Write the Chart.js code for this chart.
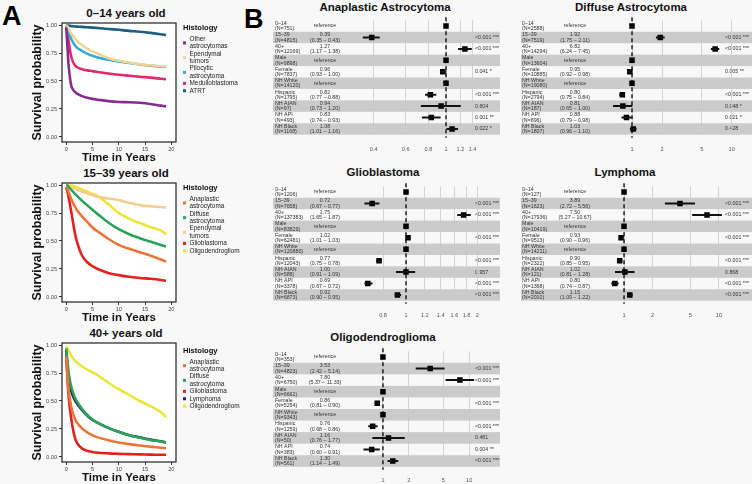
<!DOCTYPE html>
<html>
<head>
<meta charset="utf-8">
<script src="https://cdn.jsdelivr.net/npm/chart.js@4.4.1/dist/chart.umd.min.js"></script>
<style>
  body { margin: 0; background: #f8f8f8; font-family: "Liberation Sans", Arial, sans-serif; }
  #fig { position: relative; width: 752px; height: 484px; overflow: hidden; }
  canvas { position: absolute; }
  .ttl { position: absolute; font-weight: bold; color: #111; white-space: nowrap; transform: translate(-50%, -50%); font-size: 11.5px; }
  .letter { position: absolute; font-weight: bold; font-size: 27px; color: #000; line-height: 1; }
</style>
</head>
<body>
<div id="fig">
  <div class="letter" style="left:2px;top:3px">A</div>
  <div class="letter" style="left:244px;top:6px">B</div>

  <div class="ttl" style="left:126px;top:13px">0–14 years old</div>
  <div class="ttl" style="left:126px;top:173px">15–39 years old</div>
  <div class="ttl" style="left:126px;top:333px">40+ years old</div>
  <canvas id="km1" width="240" height="164" style="left:0;top:0"></canvas>
  <canvas id="km2" width="240" height="164" style="left:0;top:160px"></canvas>
  <canvas id="km3" width="240" height="164" style="left:0;top:320px"></canvas>

  <div class="ttl" style="left:385px;top:7px">Anaplastic Astrocytoma</div>
  <div class="ttl" style="left:631px;top:7px">Diffuse Astrocytoma</div>
  <div class="ttl" style="left:383px;top:172px">Glioblastoma</div>
  <div class="ttl" style="left:625px;top:172px">Lymphoma</div>
  <div class="ttl" style="left:383px;top:337px">Oligodendroglioma</div>
  <canvas id="fAA" width="228" height="156" style="left:272px;top:0"></canvas>
  <canvas id="fDA" width="233" height="156" style="left:519px;top:0"></canvas>
  <canvas id="fGB" width="228" height="156" style="left:272px;top:166px"></canvas>
  <canvas id="fLY" width="233" height="156" style="left:519px;top:166px"></canvas>
  <canvas id="fOL" width="228" height="154" style="left:272px;top:330px"></canvas>
</div>
<script>
// ---- Panel A: survival curves ----
const timeYears = [0, 0.25, 0.5, 1, 1.5, 2, 3, 4, 5, 6, 8, 10, 12, 14, 16, 18, 19];
const survTicks = [0, 0.25, 0.5, 0.75, 1];
const yearTicks = [0, 5, 10, 15, 20];

// 0-14 years
const childNames = ['Other astrocytomas', 'Ependymal tumors', 'Pilocytic astrocytoma', 'Medulloblastoma', 'ATRT'];
const childColors = ['#862d8c', '#eed596', '#35acd8', '#e02a6c', '#1c5d80'];
const childOther = [0.98, 0.80, 0.62, 0.45, 0.41, 0.39, 0.365, 0.35, 0.34, 0.333, 0.32, 0.312, 0.31, 0.305, 0.295, 0.28, 0.273];
const childEpend = [1, 0.985, 0.965, 0.92, 0.89, 0.86, 0.82, 0.79, 0.765, 0.745, 0.705, 0.68, 0.665, 0.65, 0.64, 0.632, 0.63];
const childPilo = [1, 0.96, 0.93, 0.87, 0.83, 0.80, 0.77, 0.745, 0.725, 0.71, 0.69, 0.675, 0.66, 0.648, 0.637, 0.628, 0.625];
const childMedullo = [1, 0.93, 0.84, 0.71, 0.65, 0.625, 0.605, 0.595, 0.588, 0.58, 0.567, 0.556, 0.547, 0.538, 0.53, 0.52, 0.515];
const childAtrt = [1, 0.998, 0.995, 0.99, 0.988, 0.986, 0.983, 0.98, 0.977, 0.973, 0.965, 0.957, 0.948, 0.94, 0.93, 0.918, 0.91];

// 15-39 years
const youngNames = ['Anaplastic astrocytoma', 'Diffuse astrocytoma', 'Ependymal tumors', 'Glioblastoma', 'Oligodendroglioma'];
const youngColors = ['#e8763a', '#2ba35a', '#f1cd8e', '#e2211f', '#eee536'];
const youngAnap = [0.98, 0.96, 0.93, 0.87, 0.82, 0.78, 0.72, 0.67, 0.62, 0.585, 0.52, 0.465, 0.43, 0.40, 0.37, 0.335, 0.315];
const youngDiff = [1, 0.995, 0.98, 0.955, 0.93, 0.905, 0.86, 0.82, 0.78, 0.74, 0.665, 0.605, 0.56, 0.525, 0.495, 0.465, 0.45];
const youngEpend = [1, 0.995, 0.99, 0.98, 0.97, 0.96, 0.94, 0.925, 0.91, 0.895, 0.88, 0.865, 0.84, 0.82, 0.81, 0.803, 0.80];
const youngGlio = [0.98, 0.94, 0.88, 0.75, 0.61, 0.50, 0.37, 0.31, 0.275, 0.25, 0.215, 0.195, 0.18, 0.17, 0.162, 0.152, 0.145];
const youngOligo = [1, 0.999, 0.998, 0.995, 0.99, 0.98, 0.96, 0.94, 0.92, 0.90, 0.83, 0.75, 0.70, 0.66, 0.625, 0.595, 0.56];

// 40+ years
const oldNames = ['Anaplastic astrocytoma', 'Diffuse astrocytoma', 'Glioblastoma', 'Lymphoma', 'Oligodendroglioma'];
const oldColors = ['#e8763a', '#2ba35a', '#e2211f', '#1c2a5c', '#eee536'];
const oldAnap = [0.90, 0.72, 0.58, 0.44, 0.36, 0.31, 0.255, 0.22, 0.195, 0.175, 0.15, 0.13, 0.115, 0.103, 0.092, 0.083, 0.078];
const oldDiff = [0.97, 0.85, 0.74, 0.62, 0.55, 0.50, 0.43, 0.375, 0.335, 0.305, 0.26, 0.225, 0.195, 0.172, 0.152, 0.138, 0.128];
const oldGlio = [0.90, 0.70, 0.52, 0.33, 0.20, 0.13, 0.075, 0.055, 0.045, 0.038, 0.032, 0.028, 0.025, 0.023, 0.021, 0.02, 0.02];
const oldLymph = [0.95, 0.80, 0.70, 0.58, 0.52, 0.48, 0.42, 0.37, 0.33, 0.305, 0.26, 0.225, 0.195, 0.175, 0.155, 0.14, 0.13];
const oldOligo = [0.99, 0.97, 0.95, 0.90, 0.87, 0.845, 0.81, 0.78, 0.755, 0.73, 0.665, 0.605, 0.555, 0.50, 0.455, 0.40, 0.355];

// ---- Panel B: hazard ratios ----
const rowNames = ['0–14', '15–39', '40+', 'Male', 'Female', 'NH White', 'Hispanic', 'NH AIAN', 'NH API', 'NH Black'];
const hrTicksAA = [0.4, 0.6, 0.8, 1, 1.2, 1.4];
const hrTicksGB = [0.8, 1, 1.2, 1.4, 1.6, 1.8, 2];
const hrTicksWide = [1, 2, 5, 10];

const aaN = [751, 4815, 12169, 9898, 7837, 14120, 1795, 97, 493, 1168];
const aaHR = [1, 0.39, 1.27, 1, 0.96, 1, 0.82, 0.94, 0.83, 1.08];
const aaLo = [null, 0.35, 1.17, null, 0.93, null, 0.77, 0.73, 0.74, 1.01];
const aaHi = [null, 0.43, 1.38, null, 1.00, null, 0.88, 1.20, 0.93, 1.16];
const aaP = ['', '<0.001 ***', '<0.001 ***', '', '0.041 *', '', '<0.001 ***', '0.604', '0.001 **', '0.022 *'];

const daN = [2588, 7519, 14294, 13604, 10885, 19080, 2794, 187, 896, 1807];
const daHR = [1, 1.92, 6.82, 1, 0.95, 1, 0.80, 0.81, 0.88, 1.03];
const daLo = [null, 1.75, 6.24, null, 0.92, null, 0.75, 0.65, 0.79, 0.96];
const daHi = [null, 2.11, 7.45, null, 0.98, null, 0.84, 1.00, 0.98, 1.10];
const daP = ['', '<0.001 ***', '<0.001 ***', '', '0.005 **', '', '<0.001 ***', '0.048 *', '0.021 *', '0.428'];

const gbN = [1206, 7658, 137383, 83829, 62481, 120880, 12043, 588, 3378, 6873];
const gbHR = [1, 0.72, 1.75, 1, 1.02, 1, 0.77, 1.00, 0.69, 0.92];
const gbLo = [null, 0.67, 1.65, null, 1.01, null, 0.75, 0.91, 0.67, 0.90];
const gbHi = [null, 0.77, 1.87, null, 1.03, null, 0.78, 1.09, 0.72, 0.95];
const gbP = ['', '<0.001 ***', '<0.001 ***', '', '<0.001 ***', '', '<0.001 ***', '0.957', '<0.001 ***', '<0.001 ***'];

const lyN = [127, 1623, 17936, 10419, 9513, 14211, 2322, 121, 1368, 2010];
const lyHR = [1, 3.89, 7.50, 1, 0.93, 1, 0.90, 1.02, 0.80, 1.15];
const lyLo = [null, 2.72, 5.27, null, 0.90, null, 0.85, 0.81, 0.74, 1.09];
const lyHi = [null, 5.56, 10.67, null, 0.96, null, 0.95, 1.28, 0.87, 1.22];
const lyP = ['', '<0.001 ***', '<0.001 ***', '', '<0.001 ***', '', '<0.001 ***', '0.868', '<0.001 ***', '<0.001 ***'];

const olN = [353, 4823, 6750, 6662, 5254, 9343, 1259, 50, 383, 561];
const olHR = [1, 3.53, 7.80, 1, 0.86, 1, 0.76, 1.16, 0.74, 1.30];
const olLo = [null, 2.42, 5.37, null, 0.81, null, 0.68, 0.76, 0.60, 1.14];
const olHi = [null, 5.14, 11.33, null, 0.90, null, 0.86, 1.77, 0.91, 1.49];
const olP = ['', '<0.001 ***', '<0.001 ***', '', '<0.001 ***', '', '<0.001 ***', '0.481', '0.004 **', '<0.001 ***'];

Chart.defaults.font.family = '"Liberation Sans", Arial, sans-serif';
Chart.defaults.color = '#444';

// panel border, white background and the wrapped legend on the right
const kmDecor = {
  id: 'kmDecor',
  beforeDraw(chart) {
    const { ctx, chartArea: a } = chart;
    ctx.save();
    ctx.fillStyle = '#ffffff';
    ctx.fillRect(a.left, a.top, a.width, a.height);
    ctx.restore();
  },
  afterDraw(chart) {
    const { ctx, chartArea: a } = chart;
    const opts = chart.options.plugins.kmDecor;
    ctx.save();
    ctx.strokeStyle = '#222';
    ctx.lineWidth = 1.2;
    ctx.strokeRect(a.left, a.top, a.width, a.height);

    let y = opts.titleY;
    ctx.fillStyle = '#111';
    ctx.textBaseline = 'middle';
    ctx.font = 'bold 7.6px "Liberation Sans", Arial, sans-serif';
    ctx.fillText('Histology', 183, y);
    y += 11.3;
    ctx.font = '6.4px "Liberation Sans", Arial, sans-serif';
    chart.data.datasets.forEach(ds => {
      const parts = ds.label.split(' ');
      const lines = parts.length > 1 ? [parts[0], parts.slice(1).join(' ')] : parts;
      const mid = y + (lines.length - 1) * 7.35 / 2;
      ctx.fillStyle = ds.borderColor;
      ctx.fillRect(183, mid - 1.5, 3, 3);
      ctx.fillStyle = '#222';
      lines.forEach((ln, k) => ctx.fillText(ln, 189.5, y + k * 7.35));
      y += lines.length * 7.35;
    });
    ctx.restore();
  }
};

function drawKM(id, names, colors, series, titleY) {
  new Chart(document.getElementById(id), {
    type: 'line',
    data: {
      datasets: names.map((n, k) => ({
        label: n,
        data: timeYears.map((t, i) => ({ x: t, y: series[k][i] })),
        borderColor: colors[k],
        borderWidth: 2.6,
        pointRadius: 0,
        tension: 0.35,
        fill: false
      }))
    },
    options: {
      responsive: false,
      animation: false,
      events: [],
      layout: { padding: { left: 0, right: 64, top: 23, bottom: 0 } },
      plugins: { legend: { display: false }, tooltip: { enabled: false }, kmDecor: { titleY } },
      scales: {
        x: {
          type: 'linear', min: -0.8, max: 20.9,
          afterBuildTicks: s => { s.ticks = yearTicks.map(v => ({ value: v })); },
          afterFit: s => { s.height = 22; },
          ticks: { font: { size: 5.6 }, padding: 1.5, color: '#444' },
          grid: { drawOnChartArea: false, tickLength: 3, color: '#333' },
          border: { display: false },
          title: { display: true, text: 'Time in Years', color: '#111', font: { size: 11.5, weight: 'bold', lineHeight: 1 }, padding: { top: 0, bottom: 0.3 } }
        },
        y: {
          min: -0.045, max: 1.018,
          afterBuildTicks: s => { s.ticks = survTicks.map(v => ({ value: v })); },
          afterFit: s => { s.width = 62; },
          ticks: { font: { size: 5.6 }, padding: 2, color: '#444', callback: v => v.toFixed(2) },
          grid: { drawOnChartArea: false, tickLength: 3, color: '#333' },
          border: { display: false },
          title: { display: true, text: 'Survival probability', color: '#111', font: { size: 12.5, weight: 'bold', lineHeight: 1 }, padding: { top: 31, bottom: 0 } }
        }
      }
    },
    plugins: [kmDecor]
  });
}

drawKM('km1', childNames, childColors, [childOther, childEpend, childPilo, childMedullo, childAtrt], 28);
drawKM('km2', youngNames, youngColors, [youngAnap, youngDiff, youngEpend, youngGlio, youngOligo], 28);
drawKM('km3', oldNames, oldColors, [oldAnap, oldDiff, oldGlio, oldLymph, oldOligo], 30.7);

// grey row bands, text columns and the dashed reference line
const forestDecor = {
  id: 'forestDecor',
  beforeDraw(chart) {
    const { ctx, chartArea: a, scales } = chart;
    const o = chart.options.plugins.forestDecor;
    const rowH = a.height / rowNames.length;
    ctx.save();
    ctx.fillStyle = '#cbcbcb';
    rowNames.forEach((r, i) => {
      if (i % 2 === 1) {
        const yc = scales.y.getPixelForValue(i);
        ctx.fillRect(o.bandL, yc - rowH / 2, o.bandR - o.bandL, rowH);
      }
    });
    ctx.fillStyle = '#333';
    ctx.font = '5.3px "Liberation Sans", Arial, sans-serif';
    ctx.textBaseline = 'middle';
    rowNames.forEach((r, i) => {
      const yc = scales.y.getPixelForValue(i);
      ctx.textAlign = 'left';
      ctx.fillText(r, o.labelX, yc - 2.6);
      ctx.fillText('(N=' + o.n[i] + ')', o.labelX, yc + 2.8);
      ctx.textAlign = 'center';
      if (o.lo[i] == null) {
        ctx.fillText('reference', o.estX, yc);
      } else {
        ctx.fillText(o.hr[i].toFixed(2), o.estX, yc - 2.6);
        ctx.fillText('(' + o.lo[i].toFixed(2) + ' – ' + o.hi[i].toFixed(2) + ')', o.estX, yc + 2.8);
      }
      ctx.textAlign = 'left';
      if (o.p[i]) ctx.fillText(o.p[i], o.pX, yc);
    });
    ctx.restore();
  },
  beforeDatasetsDraw(chart) {
    const { ctx, chartArea: a, scales } = chart;
    const x1 = scales.x.getPixelForValue(1);
    ctx.save();
    ctx.strokeStyle = '#111';
    ctx.lineWidth = 1.4;
    ctx.setLineDash([4, 3]);
    ctx.beginPath();
    ctx.moveTo(x1, a.top - 3);
    ctx.lineTo(x1, a.bottom + 3);
    ctx.stroke();
    ctx.restore();
  }
};

function drawForest(id, n, hr, lo, hi, p, ticks, min, max, g) {
  new Chart(document.getElementById(id), {
    type: 'bar',
    data: {
      labels: rowNames,
      datasets: [
        {
          type: 'bar',
          data: lo.map((v, i) => v == null ? null : [v, hi[i]]),
          backgroundColor: '#111',
          barThickness: 1.3,
          borderSkipped: false
        },
        {
          type: 'line',
          indexAxis: 'y',
          data: hr,
          showLine: false,
          pointStyle: 'rect',
          pointRadius: 3.9,
          pointBackgroundColor: '#000',
          pointBorderWidth: 0
        }
      ]
    },
    options: {
      indexAxis: 'y',
      responsive: false,
      animation: false,
      events: [],
      layout: { padding: { left: g.padL, right: g.padR, top: g.padT, bottom: 0 } },
      plugins: {
        legend: { display: false }, tooltip: { enabled: false },
        forestDecor: { n, hr, lo, hi, p, labelX: g.labelX, estX: g.estX, pX: g.pX, bandL: g.bandL, bandR: g.bandR }
      },
      scales: {
        x: {
          type: 'logarithmic', min, max,
          afterBuildTicks: s => { s.ticks = ticks.map(v => ({ value: v })); },
          afterFit: s => { s.height = g.axisH; },
          ticks: { font: { size: 5.6 }, color: '#555', padding: g.tickPad, callback: v => String(v) },
          grid: { drawTicks: false, color: '#c9c9c9', lineWidth: 0.8 },
          border: { display: false }
        },
        y: { display: false, grid: { display: false } }
      }
    },
    plugins: [forestDecor]
  });
}

const leftCol = { labelX: 3, estX: 53, pX: 203, bandL: 1, bandR: 228 };
const rightCol = { labelX: 3, estX: 56, pX: 206, bandL: 2, bandR: 233 };

drawForest('fAA', aaN, aaHR, aaLo, aaHi, aaP, hrTicksAA, 0.3, 1.5,
  Object.assign({ padL: 79, padR: 22, padT: 20.3, axisH: 21.3, tickPad: 11 }, leftCol));
drawForest('fGB', gbN, gbHR, gbLo, gbHi, gbP, hrTicksGB, 0.6, 2.1,
  Object.assign({ padL: 81.4, padR: 17.6, padT: 20.3, axisH: 21.3, tickPad: 11 }, leftCol));
drawForest('fOL', olN, olHR, olLo, olHi, olP, hrTicksWide, 0.5, 13,
  Object.assign({ padL: 85, padR: 21, padT: 21.2, axisH: 17.2, tickPad: 10 }, leftCol));
drawForest('fDA', daN, daHR, daLo, daHi, daP, hrTicksWide, 0.6, 12,
  Object.assign({ padL: 90.9, padR: 12.4, padT: 20.3, axisH: 21.3, tickPad: 11 }, rightCol));
drawForest('fLY', lyN, lyHR, lyLo, lyHi, lyP, hrTicksWide, 0.6, 13,
  Object.assign({ padL: 84, padR: 22.3, padT: 20.3, axisH: 21.3, tickPad: 11 }, rightCol));
</script>
</body>
</html>
